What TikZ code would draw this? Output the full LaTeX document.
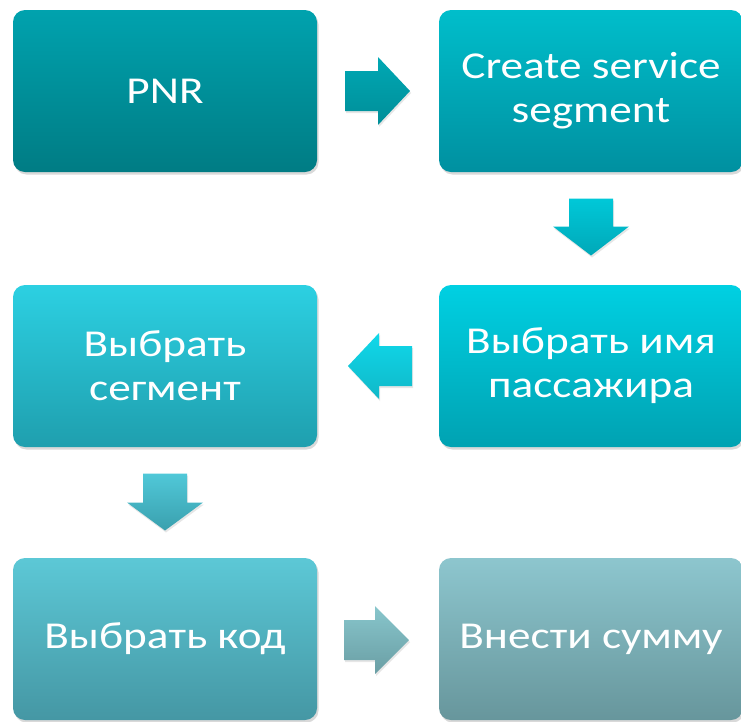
\documentclass[tikz,border=0pt]{standalone}
\usepackage{fontspec}
\setmainfont{Carlito}
\newfontfamily\etapfont{Carlito}[FakeStretch=1.19]
\usetikzlibrary{calc,shadows}

\definecolor{b1top}{HTML}{00A2AE}
\definecolor{b1bot}{HTML}{007C84}
\definecolor{b2top}{HTML}{00BECB}
\definecolor{b2bot}{HTML}{0090A0}
\definecolor{b3top}{HTML}{00D0E2}
\definecolor{b3bot}{HTML}{00A2B2}
\definecolor{b4top}{HTML}{2CD0E2}
\definecolor{b4bot}{HTML}{1F9FAE}
\definecolor{b5top}{HTML}{5CC8D6}
\definecolor{b5bot}{HTML}{4597A4}
\definecolor{b6top}{HTML}{8DC6CE}
\definecolor{b6bot}{HTML}{67969C}
\definecolor{s1top}{HTML}{00A8B4}
\definecolor{s1bot}{HTML}{008E98}
\definecolor{s2top}{HTML}{00C8D8}
\definecolor{s2bot}{HTML}{00A8B8}
\definecolor{s3top}{HTML}{10D8EA}
\definecolor{s3bot}{HTML}{10B8C8}
\definecolor{s4top}{HTML}{50C8D8}
\definecolor{s4bot}{HTML}{3AA0AE}
\definecolor{s5top}{HTML}{88C6CC}
\definecolor{s5bot}{HTML}{6A9EA4}

\begin{document}
\begin{tikzpicture}[
       x=1pt,y=-1pt,
       etap/.style={
         rectangle,
         rounded corners=12pt,
         minimum width=304pt,
         minimum height=162pt,
         text=white,
         align=center,
         font=\etapfont\fontsize{38}{44}\selectfont,
         drop shadow={opacity=0.3,shadow xshift=1.5pt,shadow yshift=-2.5pt}
       },
       strelka/.style={
         drop shadow={opacity=0.2,shadow xshift=1pt,shadow yshift=-2pt}
       }
     ]
\useasboundingbox (0,0) rectangle (741,721);

\node[etap,top color=b1top,bottom color=b1bot] (pnr) at (165,91) {PNR};
\node[etap,top color=b2top,bottom color=b2bot] (sozdat) at (591,91) {Create service\\segment};
\node[etap,top color=b3top,bottom color=b3bot] (passazhir) at (591,366) {Выбрать имя\\пассажира};
\node[etap,top color=b4top,bottom color=b4bot] (segment) at (165,366) {Выбрать\\сегмент};
\node[etap,top color=b5top,bottom color=b5bot] (kod) at (165,639) {Выбрать код};
\node[etap,top color=b6top,bottom color=b6bot] (summa) at (591,639) {Внести сумму};

\coordinate (s1) at ($(pnr)!0.5!(sozdat)$);
\coordinate (s2) at ($(sozdat)!0.5!(passazhir)$);
\coordinate (s3) at ($(passazhir)!0.5!(segment)$);
\coordinate (s4) at ($(segment)!0.5!(kod)$);
\coordinate (s5) at ($(kod)!0.5!(summa)$);

\path[strelka,top color=s1top,bottom color=s1bot,shift={(s1)}]
  (-33,-20) -- (0,-20) -- (0,-34) -- (32,0) -- (0,34) -- (0,20) -- (-33,20) -- cycle;
\path[strelka,top color=s2top,bottom color=s2bot,shift={(s2)}]
  (-22,-30) -- (22,-30) -- (22,-2) -- (38,-2) -- (0,27) -- (-38,-2) -- (-22,-2) -- cycle;
\path[strelka,top color=s3top,bottom color=s3bot,shift={(s3)}]
  (34,-20) -- (1,-20) -- (1,-33) -- (-30,0) -- (1,33) -- (1,20) -- (34,20) -- cycle;
\path[strelka,top color=s4top,bottom color=s4bot,shift={(s4)}]
  (-22,-29) -- (22,-29) -- (22,0) -- (38,0) -- (0,28) -- (-38,0) -- (-22,0) -- cycle;
\path[strelka,top color=s5top,bottom color=s5bot,shift={(s5)}]
  (-34,-19) -- (-3,-19) -- (-3,-33) -- (31,1) -- (-3,35) -- (-3,21) -- (-34,21) -- cycle;

\end{tikzpicture}
\end{document}
